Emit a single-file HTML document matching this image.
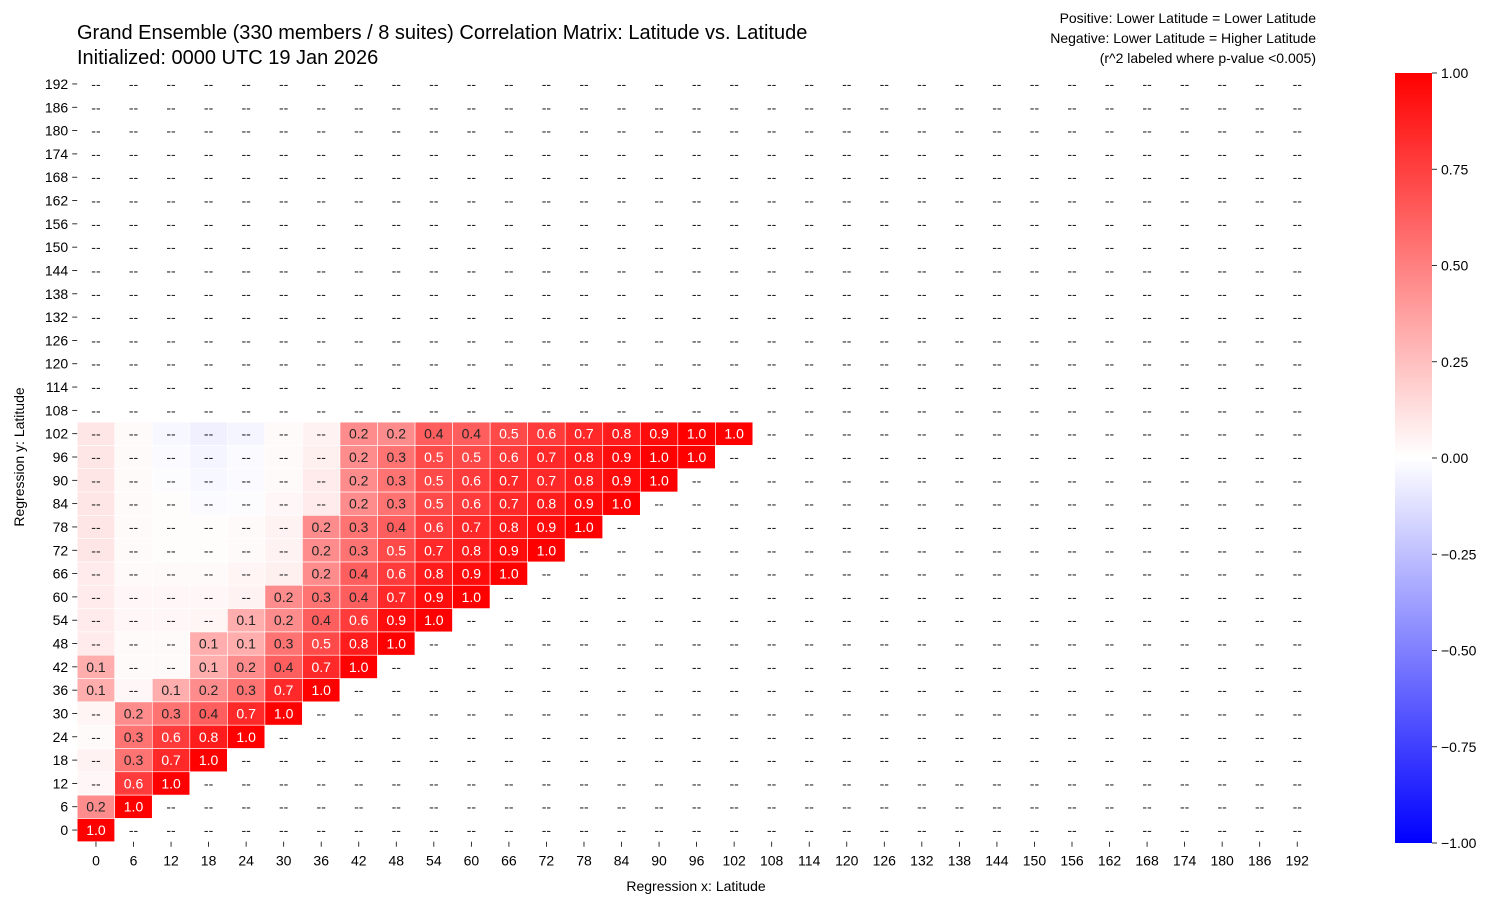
<!DOCTYPE html>
<html><head><meta charset="utf-8"><style>
body{margin:0;background:#fff;}
svg{display:block;font-family:"Liberation Sans",sans-serif;}
</style></head><body>
<svg id="chart" width="1503" height="907" viewBox="0 0 1503 907" xmlns="http://www.w3.org/2000/svg">
<defs><linearGradient id="cbar" x1="0" y1="1" x2="0" y2="0">
<stop offset="0" stop-color="#0000ff"/><stop offset="0.5" stop-color="#ffffff"/><stop offset="1" stop-color="#ff0000"/></linearGradient></defs>
<text x="77" y="39" font-size="20" fill="#000">Grand Ensemble (330 members / 8 suites) Correlation Matrix: Latitude vs. Latitude</text>
<text x="77" y="64" font-size="20" fill="#000">Initialized: 0000 UTC 19 Jan 2026</text>
<text x="1316" y="23" font-size="14" text-anchor="end">Positive: Lower Latitude = Lower Latitude</text>
<text x="1316" y="43" font-size="14" text-anchor="end">Negative: Lower Latitude = Higher Latitude</text>
<text x="1316" y="63" font-size="14" text-anchor="end">(r^2 labeled where p-value &lt;0.005)</text>
<g id="cells"></g>
<g id="xticks"></g>
<g id="yticks"></g>
<text x="696" y="891" font-size="14" text-anchor="middle">Regression x: Latitude</text>
<text transform="translate(24,457) rotate(-90)" font-size="14" text-anchor="middle">Regression y: Latitude</text>
<rect x="1395" y="73" width="37" height="770" fill="url(#cbar)"/>
<g id="cbticks"></g>
</svg>
<script>
const categories = [0,6,12,18,24,30,36,42,48,54,60,66,72,78,84,90,96,102,108,114,120,126,132,138,144,150,156,162,168,174,180,186,192];
// correlation r for rows 0..102 (columns 0..row); rows above 102 have no data
const corrRows = [
 [1.0],
 [0.45,1.0],
 [0.03,0.77,1.0],
 [0.05,0.55,0.84,1.0],
 [0.02,0.55,0.77,0.89,1.0],
 [0.04,0.45,0.55,0.63,0.84,1.0],
 [0.32,0.03,0.32,0.45,0.55,0.84,1.0],
 [0.32,0.02,0.02,0.32,0.45,0.63,0.84,1.0],
 [0.08,0.02,0.02,0.32,0.32,0.55,0.71,0.89,1.0],
 [0.08,0.03,0.03,0.04,0.32,0.45,0.63,0.77,0.95,1.0],
 [0.08,0.03,0.03,0.03,0.05,0.45,0.55,0.63,0.84,0.95,1.0],
 [0.08,0.02,0.02,0.02,0.04,0.06,0.45,0.63,0.77,0.89,0.95,1.0],
 [0.10,0.02,0.01,0.01,0.02,0.05,0.45,0.55,0.71,0.84,0.89,0.95,1.0],
 [0.10,0.02,0.01,0.01,0.02,0.05,0.45,0.55,0.63,0.77,0.84,0.89,0.95,1.0],
 [0.10,0.02,0.01,-0.02,-0.01,0.03,0.08,0.45,0.55,0.71,0.77,0.84,0.89,0.95,1.0],
 [0.10,0.02,-0.01,-0.03,-0.02,0.02,0.08,0.45,0.55,0.71,0.77,0.84,0.84,0.89,0.95,1.0],
 [0.10,0.02,-0.02,-0.04,-0.02,0.02,0.06,0.45,0.55,0.71,0.71,0.77,0.84,0.89,0.95,1.0,1.0],
 [0.10,0.02,-0.03,-0.06,-0.04,0.02,0.05,0.45,0.45,0.63,0.63,0.71,0.77,0.84,0.89,0.95,1.0,1.0]
];
const rThreshold = 0.16;
const cbTickValues = [1.00,0.75,0.50,0.25,0.00,-0.25,-0.50,-0.75,-1.00];
const cbTickLabels = ["1.00","0.75","0.50","0.25","0.00","\u22120.25","\u22120.50","\u22120.75","\u22121.00"];

const NS="http://www.w3.org/2000/svg";
const plotLeft=77.2,plotRight=1316,plotTop=72.3,plotBottom=841.7;
const nCat=categories.length;
const cw=(plotRight-plotLeft)/nCat, ch=(plotBottom-plotTop)/nCat;
function xPos(i){return plotLeft+i*cw;}
function yPos(i){return plotBottom-(i+1)*ch;}
function color(r){
  if(r>=0){const v=Math.round(255*(1-r));return `rgb(255,${v},${v})`;}
  const v=Math.round(255*(1+r));return `rgb(${v},${v},255)`;
}
function mk(tag,attrs,parent){const e=document.createElementNS(NS,tag);for(const k in attrs)e.setAttribute(k,attrs[k]);parent.appendChild(e);return e;}
const cellsG=document.getElementById('cells');
for(let ri=0;ri<nCat;ri++){
  for(let ci=0;ci<nCat;ci++){
    let r=null;
    if(ri<corrRows.length && ci<corrRows[ri].length) r=corrRows[ri][ci];
    const x=xPos(ci), y=yPos(ri);
    const rect=mk('rect',{x:x,y:y,width:cw,height:ch,fill:r===null?'#fff':color(r),stroke:'#fff','stroke-width':0.6},cellsG);
    
    
    let label='--', dark=false;
    if(r!==null && Math.abs(r)>rThreshold){label=(r*r).toFixed(1); dark=Math.abs(r)>0.68;}
    const t=mk('text',{x:x+cw/2,y:y+ch/2+5,'font-size':14,'text-anchor':'middle',fill:dark?'#fff':'#262626'},cellsG);
    t.textContent=label;
    
    
  }
}
const xt=document.getElementById('xticks'), yt=document.getElementById('yticks');
categories.forEach((c,i)=>{
  const cx=xPos(i)+cw/2;
  mk('line',{x1:cx,x2:cx,y1:plotBottom,y2:plotBottom+5,stroke:'#000','stroke-width':0.8},xt);
  const t=mk('text',{x:cx,y:plotBottom+24,'font-size':14,'text-anchor':'middle'},xt);
  t.textContent=c;
  
  
  const cy=yPos(i)+ch/2;
  mk('line',{x1:plotLeft-5,x2:plotLeft,y1:cy,y2:cy,stroke:'#000','stroke-width':0.8},yt);
  const u=mk('text',{x:plotLeft-9,y:cy+5,'font-size':14,'text-anchor':'end'},yt);
  u.textContent=c;
  
  
});
const cb=document.getElementById('cbticks');
function cbY(v){return 73+(1-v)/2*770;}
cbTickValues.forEach((v,i)=>{
  const y=cbY(v);
  mk('line',{x1:1432,x2:1437,y1:y,y2:y,stroke:'#000','stroke-width':0.8},cb);
  const t=mk('text',{x:1441,y:y+5,'font-size':14},cb);
  t.textContent=cbTickLabels[i];
  
  
});
</script>
</body></html>
